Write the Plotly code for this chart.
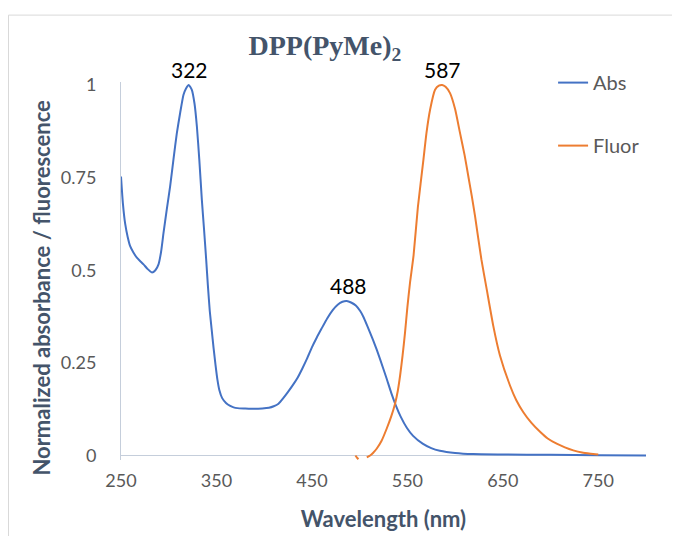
import plotly.graph_objects as go

abs_wl = [250, 252, 254.4, 257, 259.6, 263, 266.6, 270, 273.6, 278, 282.4, 286, 289.3, 292, 294.5,
          298, 301.5, 305, 308.5, 312, 315.4, 318, 321, 324.2, 327, 329.5, 332, 334.7, 337, 339.2,
          341, 343, 345, 347, 349, 351, 353, 356, 360, 364.4, 368, 372, 380, 390, 398, 405, 410,
          415, 420, 425, 430, 435, 440, 445, 450, 455, 460, 466, 472, 477, 482, 486.5, 491, 496,
          500.6, 504, 508, 514, 518, 521.4, 528, 533, 538, 543, 549.4, 556, 566, 575, 584, 600,
          619, 650, 700, 750, 800]
abs_val = [0.753, 0.68, 0.625, 0.59, 0.565, 0.548, 0.534, 0.525, 0.516, 0.503, 0.494, 0.500, 0.516,
           0.55, 0.60, 0.665, 0.727, 0.80, 0.87, 0.925, 0.973, 0.99, 1.0, 0.987, 0.95, 0.888, 0.80,
           0.69, 0.61, 0.53, 0.46, 0.39, 0.34, 0.29, 0.245, 0.205, 0.177, 0.155, 0.142, 0.134,
           0.13, 0.128, 0.127, 0.126, 0.127, 0.129, 0.133, 0.14, 0.155, 0.172, 0.19, 0.21, 0.235,
           0.262, 0.292, 0.318, 0.342, 0.37, 0.393, 0.407, 0.415, 0.417, 0.413, 0.405, 0.39, 0.374,
           0.35, 0.312, 0.285, 0.26, 0.21, 0.17, 0.135, 0.105, 0.075, 0.053, 0.032, 0.02, 0.013,
           0.007, 0.004, 0.003, 0.002, 0.001, 0.0]

fl_wl = [495.6, 497, 498.7, 502, 507.5, 511, 514, 518, 523, 528.4, 533, 537.1, 540, 542.4, 545,
         547.6, 550, 552.8, 556.5, 561, 566.8, 570, 573.8, 579, 583, 586.5, 590, 594.7, 600, 605.2,
         610, 613.9, 617.5, 620.9, 627.5, 633.1, 640, 647, 657.5, 664, 671.5, 680, 689, 697, 706.4,
         715, 723.8, 733, 742, 750]
fl_val = [0.0, -0.005, -0.01, None, -0.005, 0.0, 0.007, 0.019, 0.04, 0.073, 0.105, 0.14, 0.175,
          0.216, 0.27, 0.333, 0.40, 0.467, 0.54, 0.67, 0.798, 0.87, 0.933, 0.987, 0.998, 1.0, 0.995,
          0.978, 0.935, 0.87, 0.81, 0.753, 0.70, 0.646, 0.53, 0.449, 0.35, 0.27, 0.189, 0.15, 0.117,
          0.088, 0.064, 0.046, 0.032, 0.022, 0.014, 0.008, 0.005, 0.003]

peak_x = [322, 488, 587]
peak_y = [1.0, 0.417, 1.0]
peak_labels = ["322", "488", "587"]

x_ticks = [250, 350, 450, 550, 650, 750]
y_ticks = [0, 0.25, 0.5, 0.75, 1]
y_tick_labels = ["0", "0.25", "0.5", "0.75", "1"]

BLUE = "#4472C4"
ORANGE = "#ED7D31"
SLATE = "#44546A"
GREY_TXT = "#595959"
AXIS = "#C5CEDB"
FONT = "Lato, 'Open Sans', sans-serif"

fig = go.Figure()
fig.add_trace(go.Scatter(x=abs_wl, y=abs_val, mode="lines", name="Abs", legendgroup="a",
                         line=dict(color=BLUE, width=2, shape="spline", smoothing=0.5)))
fig.add_trace(go.Scatter(x=fl_wl, y=fl_val, mode="lines", name="Fluor", legendgroup="b",
                         connectgaps=False,
                         line=dict(color=ORANGE, width=2, shape="spline", smoothing=0.5)))

for px, py, lab in zip(peak_x, peak_y, peak_labels):
    fig.add_annotation(x=px, y=py, text=lab, showarrow=False, yanchor="bottom", yshift=1,
                       font=dict(family=FONT, size=21, color="#000000"))

fig.add_annotation(xref="paper", yref="paper", x=-0.1505, y=0.456, textangle=-90,
                   text="<b>Normalized absorbance / fluorescence</b>", showarrow=False,
                   xanchor="center", yanchor="middle",
                   font=dict(family=FONT, size=22, color=SLATE))

fig.add_shape(type="rect", xref="paper", yref="paper", x0=-0.2143, y0=-0.3, x1=1.2, y1=1.177,
              line=dict(color="#D9D9D9", width=1), fillcolor="rgba(0,0,0,0)", layer="below")

fig.update_layout(
    width=680, height=536,
    margin=dict(l=113, r=42, t=74, b=83.5, autoexpand=False),
    paper_bgcolor="white", plot_bgcolor="white",
    title=dict(text="<b>DPP(PyMe)<sub>2</sub></b>", x=0.466, xanchor="center", y=0.93,
               yanchor="middle",
               font=dict(family="'Liberation Serif', 'DejaVu Serif', serif", size=28, color=SLATE)),
    showlegend=True,
    legend=dict(x=0.823, y=1.05, xanchor="left", yanchor="top", tracegroupgap=34,
                font=dict(family=FONT, size=20, color=GREY_TXT), bgcolor="rgba(0,0,0,0)"),
    xaxis=dict(range=[250, 800], tickmode="array", tickvals=x_ticks, automargin=False,
               ticktext=[str(v) for v in x_ticks], showgrid=False, zeroline=False,
               showline=False, ticks="", ticklabelstandoff=8,
               tickfont=dict(family=FONT, size=18, color=GREY_TXT),
               title=dict(text="<b>Wavelength (nm)</b>", standoff=21,
                          font=dict(family=FONT, size=22, color=SLATE))),
    yaxis=dict(range=[-0.012, 1.008], tickmode="array", tickvals=y_ticks, ticktext=y_tick_labels,
               automargin=False,
               showgrid=False, zeroline=True, zerolinecolor=AXIS, zerolinewidth=1,
               showline=True, linecolor=AXIS, linewidth=1, ticks="", ticklabelstandoff=20,
               tickfont=dict(family=FONT, size=18, color=GREY_TXT)),
)

fig.write_html("out.html")
